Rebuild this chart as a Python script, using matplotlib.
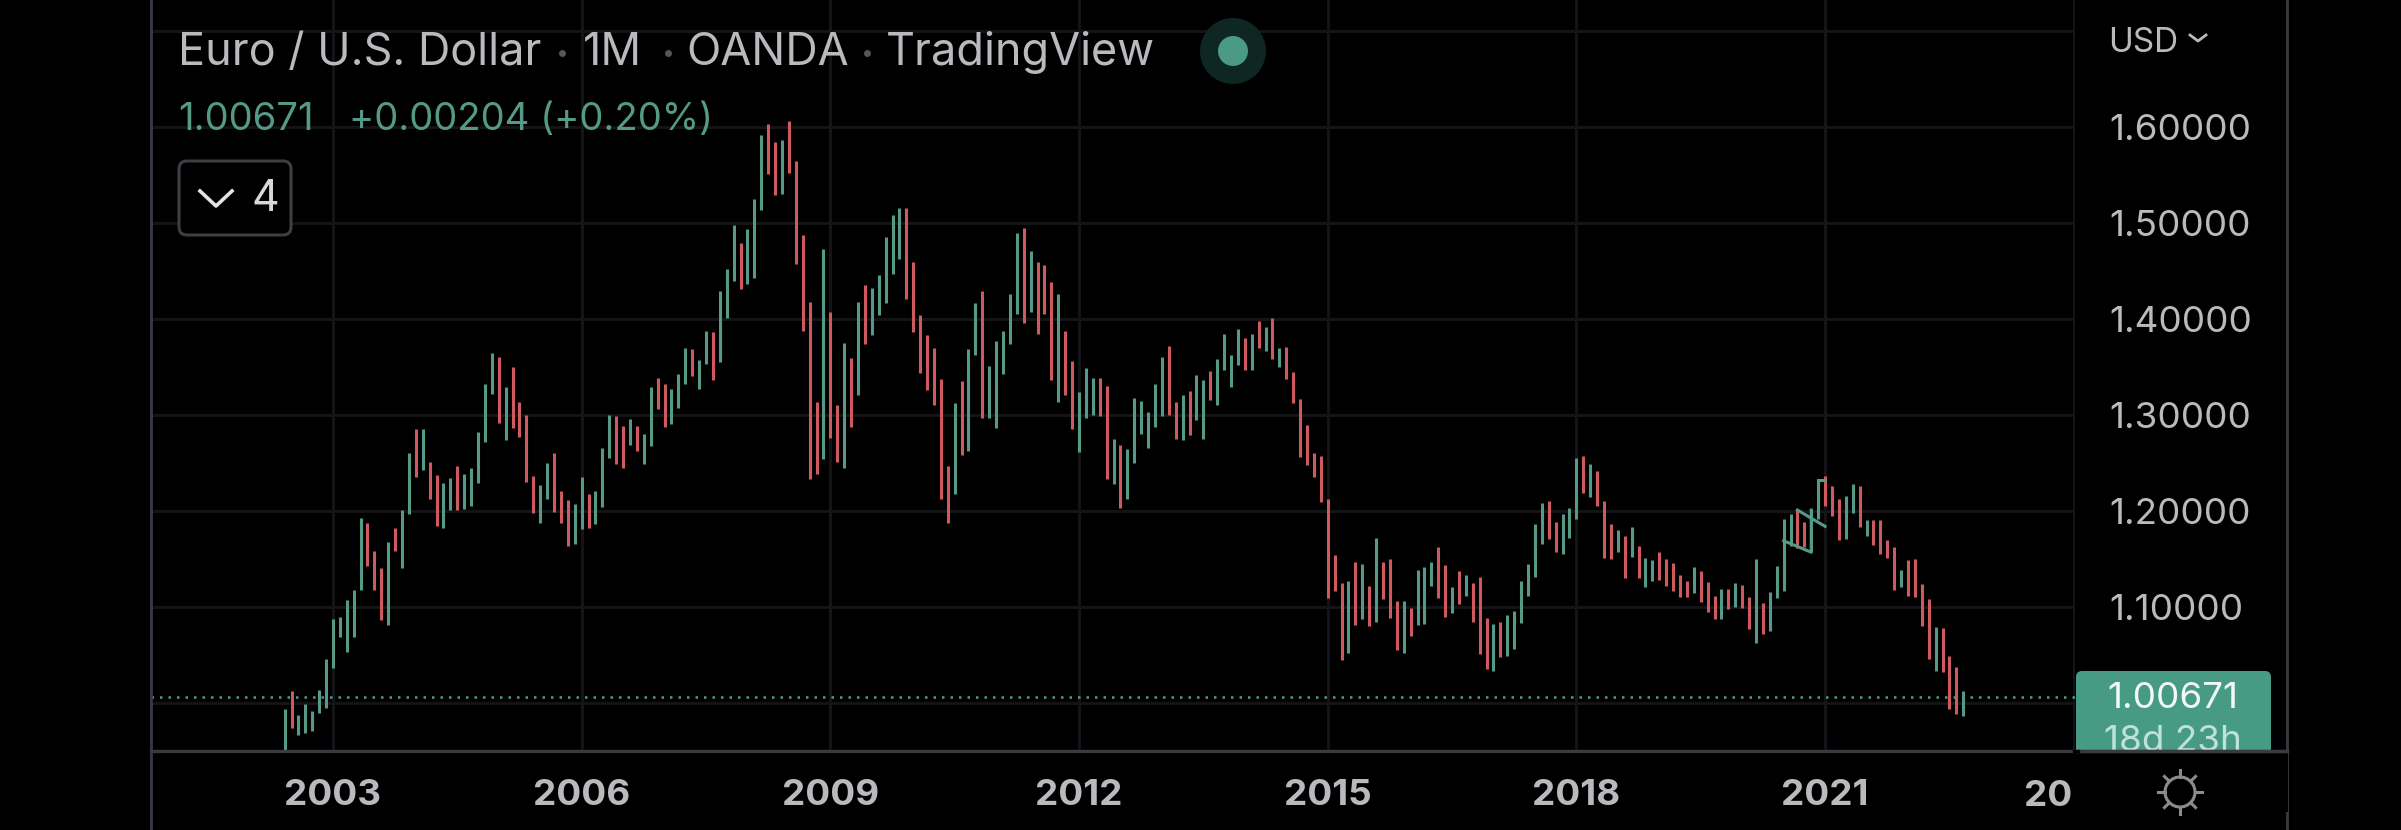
#!/usr/bin/env python
# encoding=utf-8

import numpy as np
import matplotlib as mpl
mpl.use('Agg')
import matplotlib.pyplot as plt
from matplotlib.patches import Circle, FancyBboxPatch

# monthly bars, first one is Jun 2002
highs = [
    .994, 1.013, .988, .999, .992, 1.014, 1.046, 1.088, 1.090, 1.107,
    1.118, 1.193, 1.188, 1.158, 1.141, 1.168, 1.182, 1.201, 1.260, 1.285,
    1.285, 1.251, 1.237, 1.229, 1.234, 1.247, 1.239, 1.245, 1.282, 1.332,
    1.365, 1.360, 1.329, 1.350, 1.314, 1.300, 1.236, 1.227, 1.250, 1.260,
    1.221, 1.211, 1.207, 1.235, 1.218, 1.221, 1.266, 1.300, 1.299, 1.289,
    1.296, 1.289, 1.280, 1.329, 1.339, 1.332, 1.327, 1.343, 1.370, 1.369,
    1.357, 1.387, 1.386, 1.429, 1.452, 1.498, 1.479, 1.494, 1.525, 1.592,
    1.603, 1.584, 1.586, 1.606, 1.565, 1.487, 1.418, 1.314,
    1.473, 1.407, 1.310, 1.375, 1.359, 1.418, 1.435, 1.432, 1.446, 1.485,
    1.508, 1.516, 1.516, 1.459, 1.404, 1.383, 1.370, 1.337, 1.247, 1.312,
    1.335, 1.369, 1.417, 1.429, 1.351, 1.377, 1.387, 1.426, 1.490, 1.495,
    1.471, 1.459, 1.456, 1.439, 1.426, 1.388, 1.356, 1.324, 1.349, 1.339,
    1.339, 1.330, 1.275, 1.269, 1.265, 1.318, 1.315, 1.303, 1.332, 1.360,
    1.372, 1.314, 1.321, 1.325, 1.342, 1.336, 1.346, 1.358, 1.384, 1.363,
    1.390, 1.380, 1.384, 1.398, 1.392, 1.401, 1.370, 1.371, 1.345, 1.317,
    1.290, 1.260, 1.257, 1.212, 1.154,
    1.125, 1.127, 1.147, 1.145, 1.122, 1.172, 1.147, 1.150, 1.106, 1.106,
    1.099, 1.139, 1.142, 1.147, 1.163, 1.144, 1.121, 1.138, 1.133, 1.125,
    1.131, 1.089, 1.082, 1.084, 1.092, 1.096, 1.127, 1.145, 1.186, 1.208,
    1.210, 1.189, 1.197, 1.203, 1.255, 1.257, 1.249, 1.242, 1.210, 1.186,
    1.180, 1.174, 1.183, 1.164, 1.151, 1.149, 1.157, 1.150, 1.146, 1.133,
    1.127, 1.142, 1.138, 1.126, 1.111, 1.119, 1.119, 1.125, 1.123, 1.110,
    1.150, 1.104, 1.116, 1.143, 1.192, 1.197, 1.201, 1.189, 1.201, 1.232,
    1.236, 1.226, 1.212, 1.216, 1.228,
    1.226, 1.191, 1.191, 1.191, 1.170, 1.162, 1.139, 1.149, 1.150, 1.124,
    1.108, 1.079, 1.078, 1.049, 1.037, 1.012,
]
lows = [
    .951, .974, .967, .969, .971, .990, .995, 1.036, 1.069, 1.053,
    1.069, 1.118, 1.143, 1.118, 1.086, 1.081, 1.158, 1.141, 1.197, 1.235,
    1.243, 1.213, 1.184, 1.182, 1.201, 1.201, 1.202, 1.205, 1.229, 1.272,
    1.322, 1.292, 1.274, 1.286, 1.277, 1.230, 1.198, 1.187, 1.212, 1.199,
    1.188, 1.164, 1.166, 1.181, 1.182, 1.186, 1.204, 1.255, 1.249, 1.245,
    1.269, 1.263, 1.249, 1.268, 1.306, 1.287, 1.291, 1.307, 1.332, 1.341,
    1.327, 1.353, 1.336, 1.355, 1.401, 1.440, 1.431, 1.436, 1.443, 1.514,
    1.551, 1.529, 1.530, 1.552, 1.457, 1.388, 1.233, 1.239,
    1.254, 1.276, 1.251, 1.245, 1.287, 1.321, 1.374, 1.383, 1.404, 1.417,
    1.447, 1.462, 1.421, 1.386, 1.344, 1.326, 1.310, 1.213, 1.187, 1.218,
    1.258, 1.263, 1.362, 1.297, 1.297, 1.286, 1.343, 1.374, 1.405, 1.396,
    1.407, 1.384, 1.405, 1.336, 1.314, 1.321, 1.285, 1.261, 1.297, 1.300,
    1.299, 1.233, 1.228, 1.203, 1.212, 1.250, 1.280, 1.266, 1.287, 1.299,
    1.300, 1.275, 1.274, 1.279, 1.295, 1.275, 1.316, 1.310, 1.347, 1.329,
    1.352, 1.347, 1.347, 1.370, 1.367, 1.358, 1.350, 1.337, 1.313, 1.256,
    1.248, 1.235, 1.209, 1.109, 1.117,
    1.045, 1.052, 1.081, 1.088, 1.080, 1.084, 1.108, 1.089, 1.055, 1.052,
    1.070, 1.081, 1.082, 1.122, 1.109, 1.090, 1.094, 1.103, 1.111, 1.084,
    1.051, 1.035, 1.033, 1.048, 1.049, 1.056, 1.083, 1.111, 1.131, 1.166,
    1.171, 1.157, 1.155, 1.172, 1.192, 1.219, 1.215, 1.205, 1.151, 1.150,
    1.157, 1.130, 1.152, 1.130, 1.121, 1.127, 1.128, 1.122, 1.117, 1.110,
    1.110, 1.115, 1.105, 1.095, 1.088, 1.087, 1.098, 1.100, 1.099, 1.077,
    1.063, 1.072, 1.075, 1.109, 1.117, 1.164, 1.161, 1.162, 1.157, 1.192,
    1.205, 1.195, 1.170, 1.171, 1.198,
    1.183, 1.174, 1.165, 1.155, 1.151, 1.118, 1.121, 1.111, 1.110, 1.080,
    1.046, 1.033, 1.032, .994, .989, .986,
]
# 1 = up month (green), 0 = down month (red)
ups = [
    1, 0, 1, 1, 1, 1, 1, 1, 1, 1,
    1, 1, 0, 0, 0, 1, 0, 1, 1, 0,
    1, 0, 0, 1, 1, 0, 1, 1, 1, 1,
    1, 0, 1, 0, 0, 0, 0, 1, 1, 0,
    0, 0, 1, 1, 0, 1, 1, 1, 0, 0,
    1, 0, 1, 1, 0, 0, 1, 1, 1, 0,
    1, 1, 0, 1, 1, 1, 0, 1, 1, 1,
    0, 0, 1, 0, 0, 0, 0, 0,
    1, 0, 0, 1, 0, 1, 0, 1, 1, 1,
    1, 1, 0, 0, 0, 0, 0, 0, 0, 1,
    0, 1, 1, 0, 1, 1, 1, 1, 1, 0,
    1, 0, 0, 0, 1, 0, 0, 1, 1, 1,
    0, 0, 1, 0, 1, 1, 1, 1, 1, 1,
    0, 0, 1, 0, 1, 1, 0, 1, 1, 1,
    1, 0, 1, 0, 1, 0, 1, 0, 0, 0,
    0, 0, 0, 0, 0,
    0, 1, 0, 1, 0, 1, 0, 0, 0, 1,
    0, 1, 1, 1, 0, 0, 1, 0, 1, 0,
    0, 0, 1, 0, 1, 1, 1, 1, 1, 1,
    0, 0, 1, 1, 1, 0, 1, 0, 0, 0,
    1, 0, 1, 0, 1, 1, 0, 0, 0, 0,
    0, 1, 0, 0, 0, 1, 0, 1, 0, 0,
    1, 0, 1, 1, 1, 1, 0, 0, 1, 1,
    0, 0, 0, 1, 1,
    0, 1, 0, 0, 0, 0, 1, 0, 0, 0,
    0, 1, 0, 0, 0, 1,
]

last_price = 1.00671
year_ticks = [2003, 2006, 2009, 2012, 2015, 2018, 2021]
price_ticks = [1.1, 1.2, 1.3, 1.4, 1.5, 1.6]
grid_prices = [1.0, 1.1, 1.2, 1.3, 1.4, 1.5, 1.6, 1.7]

# the small hand drawn shape around 2020, month number and price
shape_months = [[217, 221, 221], [219, 223], [222, 223]]
shape_prices = [[1.169, 1.157, 1.201], [1.201, 1.184], [1.232, 1.232]]

GREEN = '#559A86'
RED = '#CE5A60'
GRID = '#141416'
LINE = '#3A3A44'
TEXT = '#B9B9BE'
W, H = 2401, 830


if __name__ == '__main__':
    plt.rcParams['font.family'] = ['Inter', 'DejaVu Sans']

    fig = plt.figure(figsize=(W / 100, H / 100), dpi=100, facecolor='black')
    ax = fig.add_axes([151 / W, 1 - 751 / H, (2074.6 - 151) / W, 751 / H])
    ax.set_facecolor('black')
    for s in ax.spines.values():
        s.set_visible(False)

    # x axis is in years, one bar per month
    months = np.arange(len(highs))
    xs = 2002 + 5 / 12 + months / 12
    ax.set_xlim(2000.805, 2024.01)
    ax.set_ylim(0.95, 1.7323)

    for y in grid_prices:
        ax.axhline(y, color=GRID, lw=2.2, zorder=1)
    for x in year_ticks + [2024]:
        ax.axvline(x, color=GRID, lw=2.2, zorder=1)
    ax.axhline(last_price, color=GREEN, lw=1.8, ls=(0, (1, 2.4)), zorder=2)

    colors = [GREEN if u else RED for u in ups]
    ax.vlines(xs, lows, highs, colors=colors, lw=2.2, zorder=3)
    for mx, py in zip(shape_months, shape_prices):
        ax.plot(2002 + 5 / 12 + np.array(mx) / 12, py, color=GREEN, lw=2.2, zorder=4)

    ax.yaxis.tick_right()
    ax.set_yticks(price_ticks)
    ax.set_yticklabels(['%.5f' % p for p in price_ticks])
    ax.tick_params(axis='y', length=0, pad=25, labelsize=26.5, labelcolor=TEXT)
    for lab in ax.get_yticklabels():
        lab.set_va('center_baseline')
    ax.set_xticks(year_ticks)
    ax.set_xticklabels([str(y) for y in year_ticks], fontweight='bold')
    ax.tick_params(axis='x', length=0, pad=20, labelsize=26.5, labelcolor=TEXT)

    # everything around the plot is placed in pixels
    top = fig.add_axes([0, 0, 1, 1], facecolor='none')
    top.set_xlim(0, W)
    top.set_ylim(H, 0)
    top.axis('off')

    top.plot([151, 151], [0, H], color=LINE, lw=2)
    top.plot([2286.5, 2286.5], [0, H], color=LINE, lw=2)
    top.plot([151, 2286.5], [751, 751], color=LINE, lw=2.4, zorder=6)

    # title line
    for x, s in [(178, 'Euro / U.S. Dollar'), (583, '1M'), (686, 'OANDA'), (886, 'TradingView')]:
        top.text(x, 53, s, color=TEXT, fontsize=32.4, va='center', ha='left')
    for x in [562, 668, 867]:
        top.plot(x, 53, 'o', color='#55555A', ms=4)
    top.add_patch(Circle((1233, 51), 33, color='#0E2723', lw=0))
    top.add_patch(Circle((1233, 51), 15, color='#4A9A85', lw=0))

    top.text(178, 120, '1.00671', color=GREEN, fontsize=27.5, va='center', ha='left')
    top.text(349, 120, '+0.00204 (+0.20%)', color=GREEN, fontsize=27.5, va='center', ha='left')

    # collapsed indicators button
    top.add_patch(FancyBboxPatch((179, 161), 112, 74, boxstyle='round,pad=0,rounding_size=8',
                                 fc='black', ec='#3E3E45', lw=2.2))
    top.plot([200, 216, 232], [191, 206, 191], color='#E4E4E6', lw=2.6)
    top.text(265, 199, '4', color='#D8D8DA', fontsize=31, va='center', ha='center')

    # USD selector
    top.text(2108, 43, 'USD', color=TEXT, fontsize=24, va='center', ha='left')
    top.plot([2190, 2198, 2206], [35, 41, 35], color=TEXT, lw=2)

    # last price tag, second line is cut by the bottom of the pane
    tag = FancyBboxPatch((2076, 671), 195, 100, boxstyle='round,pad=0,rounding_size=6',
                         fc='#479A84', ec='none', zorder=5)
    top.add_patch(tag)
    top.text(2173, 698, '1.00671', color='#F2F8F6', fontsize=26.5, va='center', ha='center', zorder=7)
    top.text(2173, 741, '18d 23h', color='#BFE2D8', fontsize=26.5, va='center', ha='center', zorder=5.2)
    top.add_patch(plt.Rectangle((2074, 751.5), 214, 60, fc='black', ec='none', zorder=5.5))
    top.plot([2076, 2286.5], [751, 751], color=LINE, lw=2.4, zorder=6)
    top.plot([2074, 2078], [751, 751], color='black', lw=2.4, zorder=6.5)

    # cut off label of the next year tick
    top.text(2072, 796, '20', color=TEXT, fontsize=26.5, fontweight='bold', va='center', ha='right')

    # theme icon
    cx, cy = 2180, 792
    top.add_patch(Circle((cx, cy), 15, fc='none', ec='#8A8A8F', lw=2.2, zorder=7))
    for a in np.arange(0, 2 * np.pi, np.pi / 4):
        top.plot([cx + 15 * np.cos(a), cx + 22 * np.cos(a)],
                 [cy + 15 * np.sin(a), cy + 22 * np.sin(a)], color='#8A8A8F', lw=2.2, zorder=7)

    fig.savefig('out.png', dpi=100, facecolor='black')
